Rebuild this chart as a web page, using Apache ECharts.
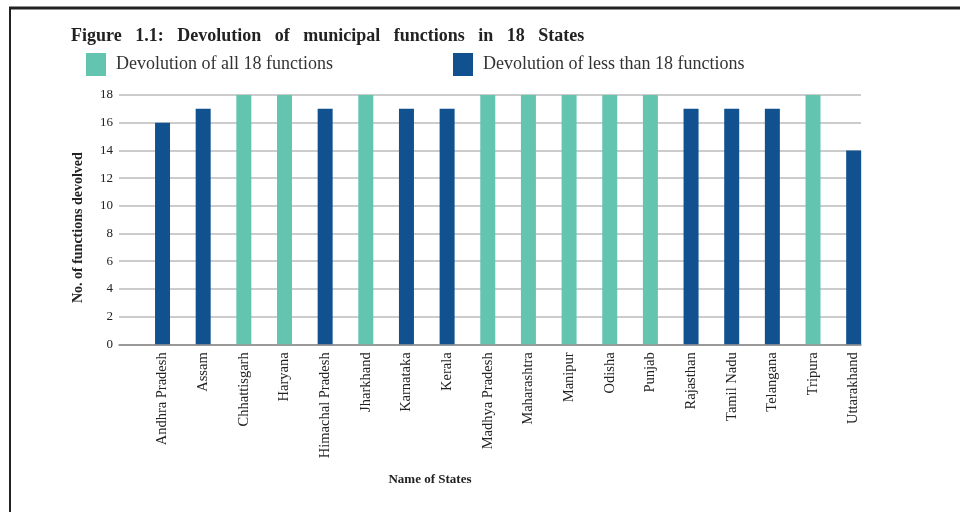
<!DOCTYPE html>
<html><head><meta charset="utf-8">
<script src="https://cdn.jsdelivr.net/npm/echarts@6/dist/echarts.min.js"></script>
<style>html,body{margin:0;padding:0;background:#fff}#c{width:960px;height:512px}</style>
</head><body><div id="c"></div>
<script>
const states = ['Andhra Pradesh','Assam','Chhattisgarh','Haryana','Himachal Pradesh','Jharkhand','Karnataka','Kerala','Madhya Pradesh','Maharashtra','Manipur','Odisha','Punjab','Rajasthan','Tamil Nadu','Telangana','Tripura','Uttarakhand'];
const functionsDevolved = [16,17,18,18,17,18,17,17,18,18,18,18,18,17,17,17,18,14];
const yTicks = [0,2,4,6,8,10,12,14,16,18];
const nameAll = 'Devolution of all 18 functions';
const nameLess = 'Devolution of less than 18 functions';
const allData = functionsDevolved.map(v => v === 18 ? v : '-');
const lessData = functionsDevolved.map(v => v < 18 ? v : '-');
const teal = '#63C5B0', blue = '#115190';
const serif = '"Liberation Serif","DejaVu Serif",serif';
const chart = echarts.init(document.getElementById('c'));
chart.setOption({
  animation:false,
  title:{text:'Figure   1.1:   Devolution   of   municipal   functions   in   18   States',left:66,top:22,
    textStyle:{fontFamily:serif,fontWeight:'bold',fontSize:18,color:'#222'}},
  legend:[
    {data:[nameAll],left:81,top:48,itemWidth:20,itemHeight:23,icon:'rect',itemGap:10,
      textStyle:{fontFamily:serif,fontSize:18,color:'#333',padding:[0,0,0,5]}},
    {data:[nameLess],left:448,top:48,itemWidth:20,itemHeight:23,icon:'rect',itemGap:10,
      textStyle:{fontFamily:serif,fontSize:18,color:'#333',padding:[0,0,0,5]}}
  ],
  grid:[
    {left:119,right:99,top:95,height:249.3},
    {left:142.2,right:86,top:95,height:249.3}
  ],
  xAxis:[
    {type:'category',gridIndex:0,data:[''],axisLine:{lineStyle:{color:'#888',width:1.5}},axisTick:{show:false},axisLabel:{show:false},
      name:'Name of States',nameLocation:'middle',nameGap:129,
      nameTextStyle:{fontFamily:serif,fontWeight:'bold',fontSize:13,color:'#222',padding:[0,120,0,0]}},
    {type:'category',gridIndex:1,data:states,axisLine:{show:false},axisTick:{show:false},
      axisLabel:{rotate:90,interval:0,margin:8,fontFamily:serif,fontSize:14.5,color:'#222'}}
  ],
  yAxis:[
    {type:'value',gridIndex:0,min:0,max:18,interval:2,
      axisLine:{show:false},axisTick:{show:false},
      axisLabel:{fontFamily:serif,fontSize:13,color:'#222',margin:6,formatter:v=>yTicks.includes(v)?String(v):''},
      splitLine:{lineStyle:{color:'#bbb',width:1.5}},
      name:'No. of functions devolved',nameLocation:'middle',nameGap:34,
      nameTextStyle:{fontFamily:serif,fontWeight:'bold',fontSize:14,color:'#222',padding:[0,16,0,0]}},
    {type:'value',gridIndex:1,min:0,max:18,show:false}
  ],
  series:[
    {name:nameAll,type:'bar',xAxisIndex:1,yAxisIndex:1,stack:'s',barWidth:15,data:allData,itemStyle:{color:teal}},
    {name:nameLess,type:'bar',xAxisIndex:1,yAxisIndex:1,stack:'s',barWidth:15,data:lessData,itemStyle:{color:blue}}
  ],
  graphic:[
    {type:'line',shape:{x1:9,y1:8,x2:960,y2:8},style:{stroke:'#222',lineWidth:3}},
    {type:'line',shape:{x1:10,y1:8,x2:10,y2:512},style:{stroke:'#222',lineWidth:2}}
  ]
});
</script></body></html>
